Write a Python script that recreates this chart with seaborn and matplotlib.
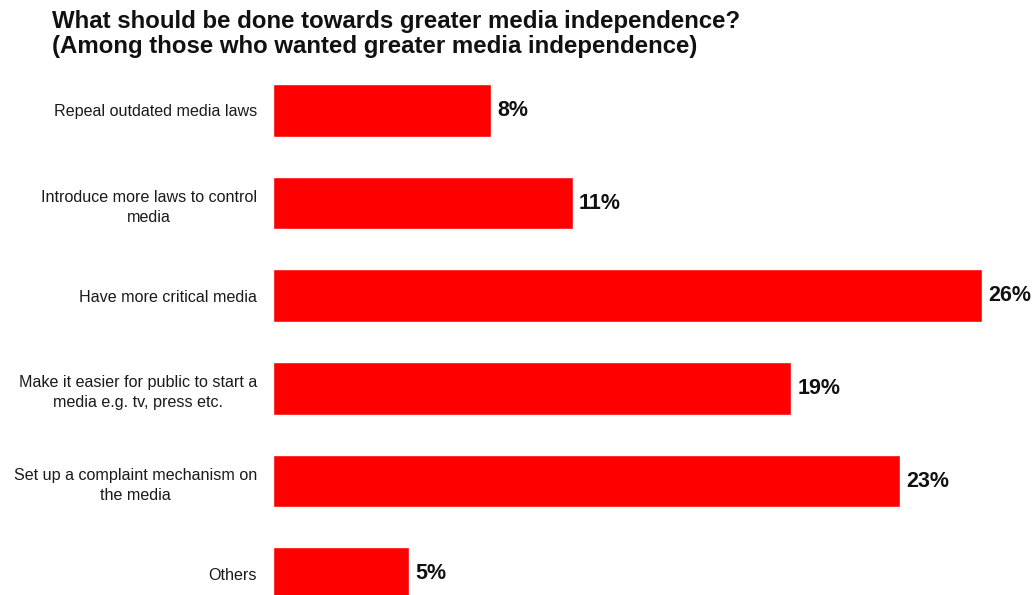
import matplotlib
matplotlib.use("Agg")
import matplotlib.pyplot as plt
import seaborn as sns
import pandas as pd

# Survey answers and shares (%)
categories = [
    "Repeal outdated media laws",
    "Introduce more laws to control\nmedia",
    "Have more critical media",
    "Make it easier for public to start a\nmedia e.g. tv, press etc.",
    "Set up a complaint mechanism on\nthe media",
    "Others",
]
shares = [8, 11, 26, 19, 23, 5]

title_lines = [
    "What should be done towards greater media independence?",
    "(Among those who wanted greater media independence)",
]

sns.set_theme(style="white")
plt.rcParams["font.family"] = ["Liberation Sans", "DejaVu Sans"]

df = pd.DataFrame({"category": categories, "share": shares})

fig = plt.figure(figsize=(10.36, 5.95), dpi=100)
W, H = 1036, 595
# axes placed in pixel terms: bars start at x=273, rows span y=64..620 (last row is cut by the canvas edge)
ax = fig.add_axes([273 / W, 1 - 620 / H, (W - 273) / W, 556 / H])

sns.barplot(data=df, y="category", x="share", color="#ff0000", saturation=1,
            width=0.57, orient="h", ax=ax)

ax.set_xlim(0, (W - 273) / 27.27)
ax.set_ylim(5.5, -0.5)
ax.set_xlabel("")
ax.set_ylabel("")
ax.set_xticks([])
for s in ax.spines.values():
    s.set_visible(False)

ax.tick_params(axis="y", length=0, pad=11.5)
for lbl in ax.get_yticklabels():
    lbl.set_fontsize(11.6)
    lbl.set_color("#1a1a1a")
    lbl.set_multialignment("center")
    lbl.set_linespacing(1.45)

for i, v in enumerate(shares):
    ax.text(v + 0.22, i, f"{v}%", va="center", ha="left", fontsize=15.5,
            fontweight="bold", color="#111111", clip_on=False)

fig.text(52 / W, 1 - 10 / H, "\n".join(title_lines), ha="left", va="top",
         fontsize=17.3, fontweight="bold", color="#111111", linespacing=1.1)

fig.savefig("out.png", dpi=100)
